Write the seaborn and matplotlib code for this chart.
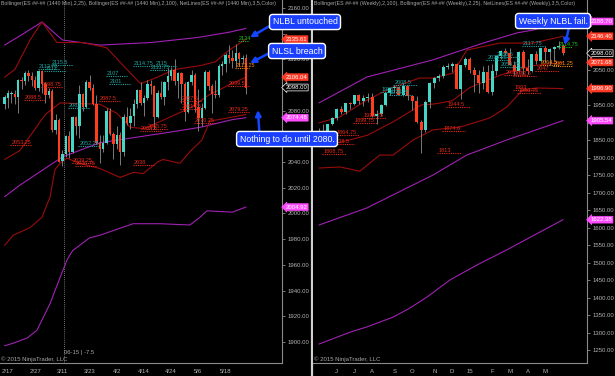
import numpy as np
import seaborn as sns
import matplotlib.pyplot as plt

# ---------------- daily ES 06-15 (1440 Min) ----------------
d_open = [2085, 2090, 2093, 2093, 2091, 2104, 2103, 2109, 2107, 2104,
          2098, 2111, 2101, 2092, 2095, 2065, 2073, 2041, 2046, 2060,
          2048, 2075, 2068, 2093, 2083, 2102, 2098, 2085, 2055, 2050,
          2055, 2080, 2062, 2054, 2061, 2048, 2075, 2070, 2076, 2085,
          2096, 2086, 2090, 2101, 2099, 2075, 2094, 2091, 2102, 2107,
          2112, 2103, 2109, 2101, 2079, 2102, 2108, 2083, 2074, 2082,
          2110, 2099, 2093, 2092, 2115, 2116, 2123, 2121, 2119, 2125,
          2120, 2121]
d_high = [2092, 2096, 2095, 2096, 2105, 2106, 2111, 2112, 2110, 2107,
          2112, 2112, 2102, 2098, 2097, 2077, 2074, 2049, 2061, 2064,
          2076, 2076, 2100, 2094, 2104, 2108, 2101, 2092, 2061, 2061,
          2082, 2082, 2063, 2068, 2063, 2077, 2083, 2082, 2089, 2097,
          2102, 2092, 2104, 2104, 2100, 2096, 2103, 2103, 2113, 2114,
          2120, 2110, 2110, 2102, 2103, 2112, 2109, 2097, 2086, 2112,
          2112, 2101, 2104, 2116, 2119, 2125, 2131, 2127, 2132, 2126,
          2123, 2124]
d_low = [2081, 2082, 2086, 2085, 2078, 2097, 2100, 2103, 2099, 2096,
         2095, 2094, 2086, 2090, 2063, 2062, 2040, 2037, 2044, 2043,
         2047, 2061, 2059, 2080, 2082, 2096, 2084, 2054, 2039, 2048,
         2054, 2061, 2042, 2050, 2038, 2045, 2069, 2066, 2068, 2082,
         2084, 2076, 2088, 2093, 2066, 2074, 2089, 2084, 2096, 2104,
         2100, 2090, 2086, 2072, 2078, 2100, 2079, 2064, 2068, 2081,
         2096, 2078, 2090, 2091, 2108, 2110, 2117, 2113, 2114, 2115,
         2116, 2093]
d_close = [2091, 2094, 2093, 2091, 2104, 2103, 2109, 2107, 2104, 2098,
           2111, 2101, 2092, 2095, 2065, 2073, 2040, 2046, 2060, 2048,
           2075, 2068, 2093, 2083, 2102, 2098, 2085, 2055, 2050, 2055,
           2080, 2062, 2054, 2061, 2048, 2075, 2070, 2076, 2085, 2096,
           2086, 2090, 2101, 2099, 2075, 2094, 2091, 2102, 2107, 2112,
           2103, 2109, 2101, 2079, 2102, 2108, 2083, 2074, 2082, 2110,
           2099, 2093, 2092, 2115, 2116, 2123, 2121, 2119, 2125, 2120,
           2121, 2098]
d_tick_pos = [1, 9, 17, 25, 33, 41, 49, 57, 65]
d_tick_lab = ['2/17', '2/27', '3/11', '3/23', '4/2', '4/14', '4/24', '5/6', '5/18']

# Bollinger bands, daily (bar index, value)
d_bb100_up_x = [0, 5, 11, 17, 28, 43, 57, 66, 71]
d_bb100_up = [2131, 2139, 2149, 2135, 2131, 2133, 2137, 2141, 2144]
d_bb100_mid_x = [0, 4.5, 17, 28, 38, 48, 57.5, 67, 71]
d_bb100_mid = [2013, 2022, 2044, 2055, 2059, 2063, 2067, 2073, 2074.5]
d_bb100_lo_x = [0, 2.5, 6.6, 9.5, 13.4, 16.3, 18.4, 20, 25, 28, 37.8, 45.7, 54.5, 57.5, 59.5, 67, 71]
d_bb100_lo = [1897, 1899, 1903, 1909, 1930, 1950, 1964, 1971, 1981, 1983, 1992, 1992,
              1991, 1997, 2002, 2001, 2005]
d_bb25_up_x = [0, 3, 7.5, 11, 15.4, 23, 30, 36, 40, 44, 50, 57.5, 62, 66, 71]
d_bb25_up = [2106, 2112, 2135, 2149, 2133, 2133, 2129, 2112, 2101, 2105, 2112, 2115, 2118,
             2127, 2135.6]
d_bb25_mid_x = [0, 4.5, 12, 16.3, 28, 33, 37, 41, 47, 54.5, 60, 66, 71]
d_bb25_mid = [2042, 2049, 2077, 2086, 2085, 2078, 2067, 2066, 2073, 2082, 2092, 2100, 2106]
d_bb25_lo_x = [0, 2.5, 7.5, 11, 13.4, 14.8, 16.3, 18.4, 22, 28, 34, 38, 40.7, 45, 46.6,
               51.6, 54.5, 58, 60.4, 63, 71]
d_bb25_lo = [1975, 1983, 1989, 1997, 2013, 2034, 2039, 2043, 2039, 2035, 2028, 2032, 2031,
             2040, 2042, 2039, 2048, 2057, 2072, 2073, 2077]

# NetLines labels, daily
d_net_long = [2112.75, 2115.5, 2111, 2107, 2101, 2114.75, 2115, 2111.75, 2082, 2052.25]
d_net_long_x = [10, 14, 12, 30, 31, 38, 44.5, 43, 19, 22]
d_net_short = [2088.5, 2098.75, 2053.25, 2087.5, 2087.5, 2081.25, 2065.75, 2064.5,
               2070.25, 2079.25, 2099.5, 2039.25, 2036.75, 2038]
d_net_short_x = [6, 11, 2, 28, 52, 52, 42, 40, 56, 66, 66, 20, 21, 38]
d_net_ssl = [2113.25]
d_net_ssl_x = [68]
d_net_bl = [2134]
d_net_bl_x = [69]

d_axis_vals = [2135.61, 2106.04, 2098.00, 2074.48, 2004.92]
d_axis_kind = ['red', 'red', 'last', 'pink', 'pink']

# ---------------- weekly ES ----------------
w_open = [1875, 1872, 1872, 1895, 1914, 1940, 1931, 1955, 1953, 1978,
          1962, 1971, 1972, 1920, 1925, 1950, 1983, 1998, 2002, 1980,
          2005, 1975, 1962, 1901, 1880, 1958, 2012, 2026, 2033, 2058,
          2062, 2068, 1997, 2063, 2081, 2050, 2035, 2012, 2044, 1988,
          2048, 2090, 2104, 2098, 2065, 2048, 2102, 2055, 2048, 2096,
          2075, 2112, 2102, 2110, 2116, 2120]
w_high = [1885, 1897, 1896, 1915, 1941, 1948, 1956, 1960, 1980, 1982,
          1980, 1985, 1983, 1937, 1952, 1988, 2000, 2007, 2003, 2014,
          2006, 1980, 1976, 1906, 1963, 2015, 2031, 2040, 2064, 2070,
          2072, 2070, 2065, 2087, 2088, 2060, 2050, 2061, 2065, 2066,
          2093, 2106, 2113, 2113, 2076, 2104, 2108, 2082, 2097, 2104,
          2114, 2120, 2112, 2119, 2132, 2124]
w_low = [1855, 1862, 1867, 1894, 1908, 1925, 1924, 1940, 1950, 1954,
         1948, 1960, 1916, 1897, 1918, 1946, 1980, 1988, 1978, 1975,
         1964, 1936, 1898, 1813, 1874, 1942, 2000, 2020, 2026, 2054,
         2044, 1995, 1966, 2060, 2042, 1987, 1983, 1995, 1983, 1978,
         2035, 2081, 2092, 2063, 2036, 2043, 2038, 2038, 2045, 2066,
         2074, 2072, 2064, 2078, 2110, 2093]
w_close = [1872, 1872, 1895, 1914, 1940, 1931, 1955, 1953, 1978, 1962,
           1971, 1972, 1920, 1925, 1950, 1983, 1998, 2002, 1980, 2005,
           1975, 1962, 1901, 1880, 1958, 2012, 2026, 2033, 2058, 2062,
           2068, 1997, 2063, 2081, 2050, 2035, 2012, 2044, 1988, 2048,
           2090, 2104, 2098, 2065, 2048, 2102, 2055, 2048, 2096, 2075,
           2112, 2102, 2110, 2116, 2120, 2098]
w_tick_pos = [4, 8, 12, 17, 21, 26, 30, 34, 39, 43, 47, 51]
w_tick_lab = ['J', 'J', 'A', 'S', 'O', 'N', 'D', '15', 'F', 'M', 'A', 'M']

w_bb100_up_x = [0, 10.8, 25.7, 37, 44.6, 48.2, 55]
w_bb100_up = [1956, 2030, 2079, 2127, 2156, 2164, 2188.7]
w_bb100_mid_x = [0, 10.8, 25.7, 33.3, 42.3, 55]
w_bb100_mid = [1607, 1656, 1750, 1807, 1850, 1905.5]
w_bb100_lo_x = [0, 7, 10.8, 16.7, 20.5, 24.3, 29.5, 35.6, 42.3, 55]
w_bb100_lo = [1267, 1301, 1316, 1344, 1370, 1401, 1450, 1493, 1536, 1622.4]
w_bb25_up_x = [0, 4.7, 10.8, 16.7, 22.7, 25.7, 30.2, 33.3, 40.8, 48.2, 55]
w_bb25_up = [1899, 1916, 1964, 2001, 2027, 2027, 2041, 2107, 2127, 2127, 2146.4]
w_bb25_mid_x = [0, 5, 11, 17, 23, 26, 30, 34, 41, 48, 55]
w_bb25_mid = [1834, 1844, 1864, 1904, 1950, 1953, 1962, 2000, 2036, 2062, 2071.7]
w_bb25_lo_x = [0, 4.7, 9.2, 13.7, 16.7, 21.2, 25.7, 31.8, 38.5, 42.3, 45.9, 49, 55]
w_bb25_lo = [1770, 1773, 1761, 1807, 1807, 1850, 1879, 1887, 1913, 1944, 1993, 1998.6, 1996.9]

w_net_long = [2117.75, 2088.5, 2079.25, 2059.75, 2008.5, 1985.75, 1978.25]
w_net_long_x = [46, 40, 38, 41, 17, 14, 16]
w_net_short = [1944.5, 1993, 1983.75, 1913.75, 1899.75, 1864.75, 1838.5, 1808.75, 1813,
               1874.6, 2035.5, 2032.5, 2047]
w_net_short_x = [29, 44, 45, 10, 8, 4, 3, 1, 27, 28, 42, 44, 49]
w_net_ssl = [2064.5, 2061.25]
w_net_ssl_x = [50, 53]
w_net_bl = [2114.75]
w_net_bl_x = [54]

w_axis_vals = [2188.70, 2146.40, 2098.00, 2071.68, 1996.90, 1905.54, 1622.38]
w_axis_kind = ['pink', 'red', 'last', 'red', 'red', 'pink', 'pink']

# ---------------- style ----------------
UP = '#45d6c6'
DOWN = '#ff3d1f'
WICK = '#8c8c8c'
BAND25 = '#9a0c0c'
BAND100 = '#a021b4'
TEAL_TXT = '#1fa5a0'
RED_TXT = '#e8281a'
ORANGE_TXT = '#ff8c10'
GREEN_TXT = '#22c022'
GRID = '#8a8a8a'
BOX = {'red': ('#ff3a26', 'white'), 'pink': ('#ff4cff', 'white'), 'last': ('black', 'white')}

sns.set_style('dark', {'axes.facecolor': 'black', 'figure.facecolor': 'black'})
plt.rcParams['font.family'] = ['Liberation Sans', 'DejaVu Sans']

fig = plt.figure(figsize=(6.15, 3.76), dpi=100, facecolor='black')
ax_d = fig.add_axes([0, 13 / 376, 282 / 615, 363 / 376])
ax_w = fig.add_axes([313 / 615, 13 / 376, 274 / 615, 363 / 376])
ax_d.set_zorder(3)
ax_w.set_zorder(2)


def candles(ax, o, h, l, c, width):
    x = np.arange(len(o))
    o, h, l, c = (np.asarray(v, float) for v in (o, h, l, c))
    up = c >= o
    ax.vlines(x, l, h, color=WICK, lw=0.6, zorder=3)
    body = np.maximum(np.abs(c - o), 0.6)
    ax.bar(x, body, bottom=np.minimum(o, c), width=width,
           color=np.where(up, UP, DOWN), linewidth=0, zorder=4)


def band(ax, xs, ys, color):
    sns.lineplot(x=xs, y=ys, ax=ax, color=color, lw=0.8, estimator=None, sort=False, zorder=2)


def netlabels(ax, vals, xs, color, span, fs):
    for v, x in zip(vals, xs):
        ax.hlines(v, x - 0.3, x + span, colors=color, lw=0.8, linestyles=(0, (1, 1)), zorder=5)
        ax.text(x, v, f'{v:g}', color=color, fontsize=fs, va='bottom', ha='left', zorder=6)


def axis_boxes(ax, vals, kinds, hide_within, hidden=()):
    for v, k in zip(vals, kinds):
        fc, tc = BOX[k]
        ax.text(1.012, v, f'{v:.2f}', transform=ax.get_yaxis_transform(), fontsize=4.3,
                color=tc, va='center', ha='left', zorder=10, clip_on=False,
                bbox=dict(boxstyle='larrow,pad=0.15', fc=fc, ec='white' if k == 'last' else fc, lw=0.5))
    # tick labels sitting under a price box / callout are not visible in the chart
    for t, lab in zip(ax.get_yticks(), ax.get_yticklabels()):
        if min(abs(t - v) for v in vals) < hide_within or t in hidden:
            lab.set_visible(False)


def frame(ax, xlim, ylim, ystep, tick_pos, tick_lab):
    ax.set_xlim(*xlim)
    ax.set_ylim(*ylim)
    ax.set_facecolor('black')
    for s in ['top', 'left']:
        ax.spines[s].set_visible(False)
    for s in ['right', 'bottom']:
        ax.spines[s].set_visible(True)
        ax.spines[s].set_color(GRID)
        ax.spines[s].set_linewidth(0.8)
    ax.yaxis.tick_right()
    yt = np.arange(np.ceil(ylim[0] / ystep) * ystep, ylim[1], ystep)
    ax.set_yticks(yt)
    ax.set_yticklabels([f'{v:.2f}' for v in yt])
    ax.set_xticks(tick_pos)
    ax.set_xticklabels(tick_lab)
    ax.tick_params(axis='both', colors=GRID, labelcolor='#b4b4b4', labelsize=4.3, length=2.5,
                   width=0.6, pad=1.5)
    ax.grid(False)
    ax.set_xlabel('')
    ax.set_ylabel('')


# ---------------- daily panel ----------------
band(ax_d, d_bb100_up_x, d_bb100_up, BAND100)
band(ax_d, d_bb100_mid_x, d_bb100_mid, BAND100)
band(ax_d, d_bb100_lo_x, d_bb100_lo, BAND100)
band(ax_d, d_bb25_up_x, d_bb25_up, BAND25)
band(ax_d, d_bb25_mid_x, d_bb25_mid, BAND25)
band(ax_d, d_bb25_lo_x, d_bb25_lo, BAND25)
candles(ax_d, d_open, d_high, d_low, d_close, 0.7)
netlabels(ax_d, d_net_long, d_net_long_x, TEAL_TXT, 6, 4.0)
netlabels(ax_d, d_net_short, d_net_short_x, RED_TXT, 6, 4.0)
netlabels(ax_d, d_net_ssl, d_net_ssl_x, ORANGE_TXT, 4, 4.0)
netlabels(ax_d, d_net_bl, d_net_bl_x, GREEN_TXT, 3, 4.0)
frame(ax_d, (-1.35, 81.6), (1883.6, 2166.1), 20, d_tick_pos, d_tick_lab)
ax_d.set_xticks(np.arange(len(d_close)), minor=True)
ax_d.tick_params(axis='x', which='minor', colors=GRID, length=2, width=0.5)
ax_d.axvline(17.4, color='#9a9a9a', lw=0.6, ls=(0, (1, 1.5)), zorder=1)
axis_boxes(ax_d, d_axis_vals, d_axis_kind, 4.5, hidden=(2060,))
ax_d.text(0.003, 0.997, 'Bollinger(ES ##-## (1440 Min),2,25), Bollinger(ES ##-## (1440 Min),2,100), '
          'NetLines(ES ##-## (1440 Min),3,5,Color)', transform=ax_d.transAxes, fontsize=3.8,
          color='#a8a8a8', va='top', ha='left')
ax_d.text(17.6, 1890, '06-15 | -7.5', fontsize=4.2, color='#a8a8a8', va='bottom', ha='left')
ax_d.text(0.003, 0.004, '© 2015 NinjaTrader, LLC', transform=ax_d.transAxes, fontsize=4.3,
          color='#a8a8a8', va='bottom', ha='left')

# ---------------- weekly panel ----------------
band(ax_w, w_bb100_up_x, w_bb100_up, BAND100)
band(ax_w, w_bb100_mid_x, w_bb100_mid, BAND100)
band(ax_w, w_bb100_lo_x, w_bb100_lo, BAND100)
band(ax_w, w_bb25_up_x, w_bb25_up, BAND25)
band(ax_w, w_bb25_mid_x, w_bb25_mid, BAND25)
band(ax_w, w_bb25_lo_x, w_bb25_lo, BAND25)
candles(ax_w, w_open, w_high, w_low, w_close, 0.68)
netlabels(ax_w, w_net_long, w_net_long_x, TEAL_TXT, 5, 4.0)
netlabels(ax_w, w_net_short, w_net_short_x, RED_TXT, 5, 4.0)
netlabels(ax_w, w_net_ssl, w_net_ssl_x, ORANGE_TXT, 4, 4.0)
netlabels(ax_w, w_net_bl, w_net_bl_x, GREEN_TXT, 3, 4.0)
frame(ax_w, (-1.35, 60.4), (1212.9, 2250), 50, w_tick_pos, w_tick_lab)
axis_boxes(ax_w, w_axis_vals, w_axis_kind, 17)
ax_w.text(0.003, 0.997, 'Bollinger(ES ##-## (Weekly),2,100), Bollinger(ES ##-## (Weekly),2,25), '
          'NetLines(ES ##-## (Weekly),3,5,Color)', transform=ax_w.transAxes, fontsize=3.8,
          color='#a8a8a8', va='top', ha='left')
ax_w.text(0.003, 0.004, '© 2015 NinjaTrader, LLC', transform=ax_w.transAxes, fontsize=4.3,
          color='#a8a8a8', va='bottom', ha='left')

# panel separator
fig.add_artist(plt.Line2D([312 / 615, 312 / 615], [0, 1], color='#d0d0d0', lw=1.6))

# ---------------- callouts ----------------
ARROW = '#1546ff'


def callout(ax, text, tip, box_center, relpos):
    ax.annotate(text, xy=tip, xytext=box_center, textcoords='figure fraction',
                fontsize=6.3, color='white', ha='center', va='center', zorder=20,
                annotation_clip=False,
                bbox=dict(boxstyle='round,pad=0.35', fc='#1a3fff', ec='white', lw=1.0),
                arrowprops=dict(arrowstyle='-|>', color=ARROW, lw=1.8, mutation_scale=8,
                                relpos=relpos, shrinkA=0, shrinkB=0))


callout(ax_d, 'NLBL untouched', (72.2, 2137), (305 / 615, 1 - 22 / 376), (0.0, 0.25))
callout(ax_d, 'NLSL breach', (72.2, 2117), (297 / 615, 1 - 51 / 376), (0.0, 0.4))
callout(ax_d, 'Nothing to do until 2080.', (74.5, 2080.5), (287 / 615, 1 - 139 / 376), (0.21, 1.0))
callout(ax_w, 'Weekly NLBL fail.', (55.4, 2121), (553 / 615, 1 - 21 / 376), (0.74, 0.0))

fig.savefig('out.png', dpi=100, facecolor='black')
